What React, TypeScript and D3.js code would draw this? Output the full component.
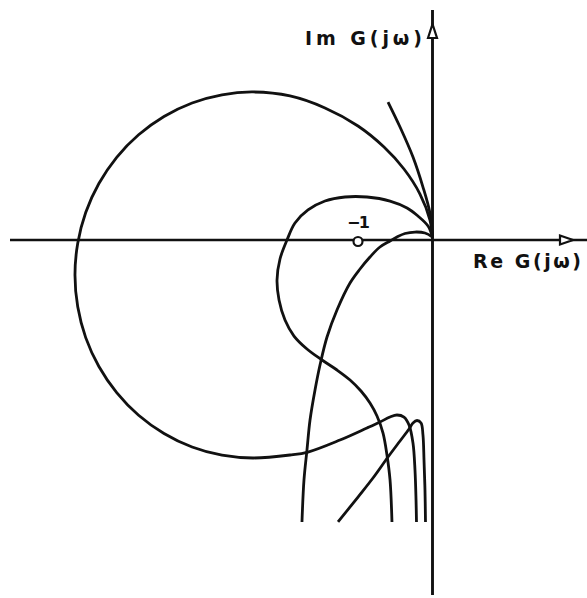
import React from "react";
import * as d3 from "d3";

// Nyquist loci G(jω), each listed as [Re, Im] points from ω→∞ (origin) outward
const bigLoop: [number, number][] = [
  [0, 0.027], [-0.034, 0.268], [-0.168, 0.617], [-0.383, 0.953], [-0.651, 1.248],
  [-1.0, 1.53], [-1.443, 1.772], [-1.913, 1.933], [-2.409, 1.987], [-2.826, 1.949],
  [-3.227, 1.839], [-3.604, 1.658], [-3.945, 1.412], [-4.239, 1.11], [-4.478, 0.758],
  [-4.655, 0.37], [-4.762, -0.043], [-4.799, -0.47], [-4.762, -0.897], [-4.655, -1.31],
  [-4.478, -1.698], [-4.239, -2.048], [-3.945, -2.352], [-3.604, -2.597], [-3.227, -2.779],
  [-2.826, -2.889], [-2.409, -2.926], [-1.913, -2.886], [-1.671, -2.846], [-1.242, -2.685],
  [-0.879, -2.523], [-0.705, -2.443], [-0.57, -2.376], [-0.477, -2.349], [-0.383, -2.376],
  [-0.315, -2.483], [-0.262, -2.725], [-0.235, -3.087], [-0.221, -3.49], [-0.215, -3.785],
];

const steepBranch: [number, number][] = [
  [-0.597, 1.852], [-0.436, 1.517], [-0.262, 1.114], [-0.128, 0.711], [-0.034, 0.362], [0, 0.054],
];

const middleLoop: [number, number][] = [
  [0, 0.04], [-0.06, 0.188], [-0.195, 0.322], [-0.342, 0.43], [-0.57, 0.523],
  [-0.879, 0.577], [-1.174, 0.577], [-1.443, 0.523], [-1.671, 0.403], [-1.846, 0.228],
  [-1.953, 0], [-2.047, -0.255], [-2.087, -0.537], [-2.06, -0.805], [-1.98, -1.074],
  [-1.859, -1.289], [-1.685, -1.463], [-1.483, -1.611], [-1.282, -1.745], [-1.107, -1.879],
  [-0.96, -2.027], [-0.839, -2.188], [-0.745, -2.362], [-0.664, -2.591], [-0.611, -2.886],
  [-0.57, -3.221], [-0.544, -3.785],
];

const innerBranch: [number, number][] = [
  [0, 0.04], [-0.101, 0.094], [-0.235, 0.107], [-0.369, 0.087], [-0.477, 0.04],
  [-0.57, -0.013], [-0.705, -0.094], [-0.839, -0.228], [-0.973, -0.389], [-1.107, -0.577],
  [-1.282, -0.94], [-1.416, -1.302], [-1.51, -1.678], [-1.577, -2.013], [-1.644, -2.416],
  [-1.685, -2.819], [-1.725, -3.221], [-1.752, -3.785],
];

const spikeBranch: [number, number][] = [
  [-1.268, -3.785], [-1.0, -3.45], [-0.799, -3.195], [-0.597, -2.913], [-0.436, -2.698],
  [-0.315, -2.537], [-0.262, -2.456], [-0.208, -2.423], [-0.154, -2.456], [-0.128, -2.617],
  [-0.114, -2.953], [-0.101, -3.356], [-0.094, -3.785],
];

const loci = [bigLoop, steepBranch, middleLoop, innerBranch, spikeBranch];

// Critical point and axis labels
const criticalPoint: [number, number] = [-1, 0];
const criticalLabel = "−1";
const reLabel = "Re G(jω)";
const imLabel = "Im G(jω)";

const W = 587;
const H = 598;
const unit = 74.5;
const ox = 432.5;
const oy = 240;

const x = d3.scaleLinear().domain([0, 1]).range([ox, ox + unit]);
const y = d3.scaleLinear().domain([0, 1]).range([oy, oy - unit]);

const line = d3
  .line<[number, number]>()
  .x((d) => x(d[0]))
  .y((d) => y(d[1]))
  .curve(d3.curveCatmullRom.alpha(0.5));

export default function App() {
  const ink = "#111";
  const font = "'DejaVu Sans', sans-serif";
  return (
    <svg
      width={W}
      height={H}
      style={{ position: "absolute", left: 0, top: 0, background: "#fff" }}
    >
      <rect width={W} height={H} fill="#fff" />

      {/* real axis */}
      <line x1={10} y1={oy} x2={W} y2={oy} stroke={ink} strokeWidth={2.7} />
      <path
        d={`M560,${oy - 4.5} L573,${oy} L560,${oy + 4.5} Z`}
        fill="#fff"
        stroke={ink}
        strokeWidth={2.2}
      />

      {/* imaginary axis */}
      <line x1={ox} y1={10} x2={ox} y2={595} stroke={ink} strokeWidth={2.9} />
      <path
        d={`M${ox - 4.5},38 L${ox},24 L${ox + 4.5},38 Z`}
        fill="#fff"
        stroke={ink}
        strokeWidth={2.2}
      />

      {loci.map((pts, i) => (
        <path
          key={i}
          d={line(pts) ?? ""}
          fill="none"
          stroke={ink}
          strokeWidth={2.8}
          strokeLinecap="butt"
          strokeLinejoin="round"
        />
      ))}

      {/* −1 point */}
      <circle
        cx={x(criticalPoint[0])}
        cy={y(criticalPoint[1]) + 1.5}
        r={4.5}
        fill="#fff"
        stroke={ink}
        strokeWidth={2.2}
      />
      <text
        x={347}
        y={228}
        fontFamily={font}
        fontWeight="bold"
        fontSize={16}
        textLength={23}
        lengthAdjust="spacing"
        fill={ink}
      >
        {criticalLabel}
      </text>

      <text
        x={305}
        y={45}
        fontFamily={font}
        fontWeight="bold"
        fontSize={19}
        textLength={117}
        lengthAdjust="spacing"
        fill={ink}
      >
        {imLabel}
      </text>
      <text
        x={473}
        y={268}
        fontFamily={font}
        fontWeight="bold"
        fontSize={19}
        textLength={108}
        lengthAdjust="spacing"
        fill={ink}
      >
        {reLabel}
      </text>
    </svg>
  );
}
